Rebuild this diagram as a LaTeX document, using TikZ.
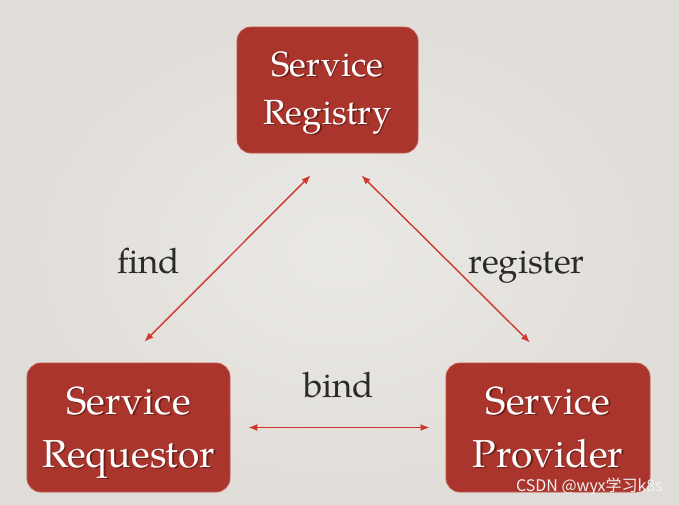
\documentclass[tikz,border=0pt]{standalone}
\usepackage{fontspec}
\setmainfont{TeX Gyre Pagella}
\usepackage{tikz}
\usetikzlibrary{arrows.meta,positioning,calc}
\newfontfamily\cjkmark{Noto Sans CJK SC}
\definecolor{svcred}{HTML}{A9352D}
\definecolor{svcedge}{HTML}{C0554C}
\definecolor{svcarrow}{HTML}{D0382E}
\definecolor{svcback}{HTML}{EBE9E6}
\definecolor{svcbackdark}{HTML}{E0DDD8}
\definecolor{svcshadow}{HTML}{3A0E0A}
\definecolor{svctext}{HTML}{2A2A2A}
\tikzset{
  svcbox/.style={draw=svcedge,line width=0.8pt,rounded corners=14pt,fill=svcred,inner sep=0pt},
  svcword/.style={text=white,align=center,inner sep=0pt},
  svcshade/.style={text=svcshadow,text opacity=0.55,align=center,inner sep=0pt},
  topfont/.style={font=\fontsize{35}{48}\selectfont},
  lowfont/.style={font=\fontsize{39}{53}\selectfont},
  svcrel/.style={{Latex[length=9pt,width=7pt]}-{Latex[length=9pt,width=7pt]},draw=svcarrow,line width=1.4pt},
  svclabel/.style={text=svctext,font=\fontsize{35}{40}\selectfont,inner sep=0pt,anchor=base west}
}
\begin{document}
\begin{tikzpicture}[x=1pt,y=-1pt]
\shade[inner color=svcback,outer color=svcbackdark] (0,0) rectangle (679,504);
\useasboundingbox (0,0) rectangle (679,504);
% the three roles
\node[svcbox,minimum width=181pt,minimum height=126pt,
  label={[svcshade,topfont,xshift=1.5pt,yshift=-4.5pt]center:{Service\\Registry}},
  label={[svcword,topfont,yshift=-3pt]center:{Service\\Registry}}] (reg) at (327.5,90) {};
\node[svcbox,minimum width=203pt,minimum height=129pt,
  label={[svcshade,lowfont,xshift=1.5pt,yshift=-6.5pt]center:{Service\\Requestor}},
  label={[svcword,lowfont,yshift=-5pt]center:{Service\\Requestor}}] (req) at (128.5,427.5) {};
\node[svcbox,minimum width=204pt,minimum height=129pt,
  label={[svcshade,lowfont,xshift=1.5pt,yshift=-1.5pt]center:{Service\\Provider}},
  label={[svcword,lowfont]center:{Service\\Provider}}] (prov) at (548,427.5) {};
% relations
\draw[svcrel] ([shift={(16pt,21pt)}]req.north) -- ([shift={(-17pt,-22pt)}]reg.south);
\draw[svcrel] ([shift={(34pt,-22pt)}]reg.south) -- ([shift={(-18pt,20pt)}]prov.north);
\draw[svcrel,shorten <=18pt,shorten >=16pt] (req.east) -- (prov.west);
\node[svclabel] (find) at (117,273) {find};
\node[svclabel] (register) at (468,273) {register};
\node[svclabel] (bind) at (303,397) {bind};
\node[text=white!88!gray,font=\cjkmark\fontsize{16}{18}\selectfont,inner sep=0pt,anchor=base east] (mark) at (663,491) {CSDN @wyx学习k8s};
\end{tikzpicture}
\end{document}
